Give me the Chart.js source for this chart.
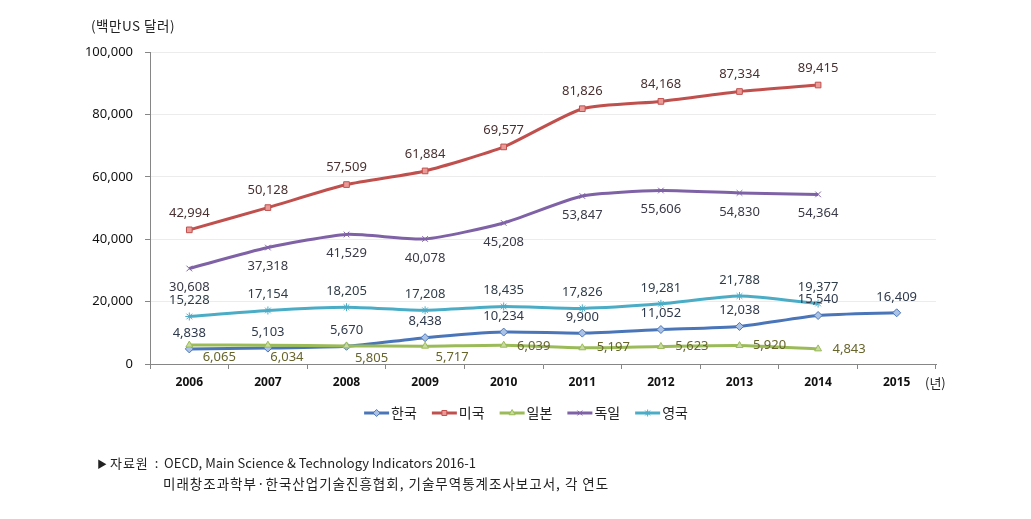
<!DOCTYPE html>
<html>
<head>
<meta charset="utf-8">
<script src="https://cdn.jsdelivr.net/npm/chart.js@4.4.0/dist/chart.umd.min.js"></script>
<style>
  body { margin: 0; background: #fff; }
  #wrap { position: relative; width: 1031px; height: 519px; }
  .txt { position: absolute; font-family: "Noto Sans CJK KR", sans-serif; color: #222; white-space: nowrap; line-height: 1; }
</style>
</head>
<body>
<div id="wrap">
  <canvas id="lineChart" width="1031" height="519"></canvas>
  <div class="txt" style="left:91px; top:19px; font-size:13.5px; letter-spacing:0.5px;">(백만US 달러)</div>
  <div class="txt" style="left:925px; top:376px; font-size:13px;">(년)</div>
  <div class="txt" style="left:97px; top:456px; font-size:13px;"><span style="font-size:10px;">▶</span> <span style="letter-spacing:1px;">자료원</span>&nbsp; :&nbsp; OECD, Main Science &amp; Technology Indicators 2016-1</div>
  <div class="txt" style="left:163px; top:477px; font-size:13.5px; letter-spacing:1px;">미래창조과학부·한국산업기술진흥협회, 기술무역통계조사보고서, 각 연도</div>
</div>
<script>
// 기술무역 수출액 (백만 US 달러)
const years = ['2006', '2007', '2008', '2009', '2010', '2011', '2012', '2013', '2014', '2015']
const korea = [4838, 5103, 5670, 8438, 10234, 9900, 11052, 12038, 15540, 16409]
const usa = [42994, 50128, 57509, 61884, 69577, 81826, 84168, 87334, 89415, null]
const japan = [6065, 6034, 5805, 5717, 6039, 5197, 5623, 5920, 4843, null]
const germany = [30608, 37318, 41529, 40078, 45208, 53847, 55606, 54830, 54364, null]
const uk = [15228, 17154, 18205, 17208, 18435, 17826, 19281, 21788, 19377, null]
const seriesNames = ['한국', '미국', '일본', '독일', '영국']
const yTicks = [0, 20000, 40000, 60000, 80000, 100000]

// label nudges (px) for the japan series, other series use one offset
const japanLabelShift = [[30, 12], [19, 12], [25, 12], [27, 11], [30, 1], [31, 0], [31, 0], [30, 0], [31, 0]]

const fmt = v => v.toLocaleString('en-US')

const makeSet = (name, values, color, fill, style, order, labelColor, dy) => ({
  label: name,
  data: values,
  borderColor: color,
  backgroundColor: fill,
  pointBackgroundColor: fill,
  pointBorderColor: color,
  pointStyle: style,
  pointRadius: 4,
  pointBorderWidth: 1,
  borderWidth: 3,
  tension: 0.2,
  order: order,
  labelColor: labelColor,
  labelDy: dy
})

const datasets = [
  makeSet(seriesNames[0], korea, '#4a76b9', '#a9c2e6', 'rectRot', 5, '#2f3a4c', -16),
  makeSet(seriesNames[1], usa, '#c0504d', '#ea9a97', 'rect', 4, '#4a3030', -17),
  makeSet(seriesNames[2], japan, '#9bbb59', '#c8dba0', 'triangle', 3, '#66652c', 0),
  makeSet(seriesNames[3], germany, '#7f62a6', '#7f62a6', 'crossRot', 2, '#3a3a48', 19),
  makeSet(seriesNames[4], uk, '#4bacc6', '#4bacc6', 'star', 1, '#2f3d48', -16)
]

const valueLabels = {
  id: 'valueLabels',
  afterDatasetsDraw(chart) {
    const ctx = chart.ctx
    ctx.save()
    ctx.font = '13px "Noto Sans"'
    ctx.textAlign = 'center'
    ctx.textBaseline = 'middle'
    chart.data.datasets.forEach((ds, i) => {
      const meta = chart.getDatasetMeta(i)
      ctx.fillStyle = ds.labelColor
      meta.data.forEach((pt, j) => {
        const v = ds.data[j]
        if (v == null) return
        let dx = 0, dy = ds.labelDy
        if (ds.data === japan) { dx = japanLabelShift[j][0]; dy = japanLabelShift[j][1] }
        ctx.fillText(fmt(v), pt.x + dx, pt.y + dy)
      })
    })
    ctx.restore()
  }
}

const bottomLegend = {
  id: 'bottomLegend',
  afterDraw(chart) {
    const ctx = chart.ctx
    ctx.save()
    ctx.font = '14px "Noto Sans CJK KR"'
    ctx.textBaseline = 'middle'
    const items = chart.data.datasets.map(ds => ({ ds: ds, w: 27 + ctx.measureText(ds.label).width }))
    const total = items.reduce((acc, it) => acc + it.w, 0) + 15 * (items.length - 1)
    let x = 526 - total / 2
    const y = 413
    items.forEach(it => {
      const ds = it.ds
      ctx.strokeStyle = ds.borderColor
      ctx.lineWidth = 3
      ctx.beginPath()
      ctx.moveTo(x, y)
      ctx.lineTo(x + 25, y)
      ctx.stroke()
      ctx.fillStyle = ds.pointBackgroundColor
      ctx.strokeStyle = ds.pointBorderColor
      ctx.lineWidth = 1
      Chart.helpers.drawPoint(ctx, { pointStyle: ds.pointStyle, radius: 3.5, borderWidth: 1, rotation: 0 }, x + 12.5, y)
      ctx.fillStyle = '#222'
      ctx.fillText(ds.label, x + 27, y)
      x += it.w + 15
    })
    ctx.restore()
  }
}

const ctxL = document.getElementById('lineChart').getContext('2d')
const myLineChart = new Chart(ctxL, {
  type: 'line',
  data: { labels: years, datasets: datasets },
  plugins: [valueLabels, bottomLegend],
  options: {
    responsive: false,
    animation: false,
    layout: { padding: { left: 0, top: 52, right: 95, bottom: 125 } },
    plugins: { legend: { display: false }, tooltip: { enabled: false } },
    scales: {
      x: {
        offset: true,
        afterFit: axis => { axis.height = 30 },
        grid: { offset: true, drawOnChartArea: false, tickLength: 5, tickColor: '#868686' },
        border: { color: '#868686' },
        ticks: { color: '#111', padding: 6, font: { family: '"Noto Sans"', size: 12, weight: 'bold' } }
      },
      y: {
        min: 0,
        max: 100000,
        afterFit: axis => { axis.width = 150 },
        afterBuildTicks: axis => { axis.ticks = yTicks.map(v => ({ value: v })) },
        grid: { color: '#ececec', tickLength: 5, tickColor: '#868686' },
        border: { color: '#868686' },
        ticks: { color: '#111', padding: 12, font: { family: '"Noto Sans"', size: 13 }, callback: v => fmt(v) }
      }
    }
  }
})
</script>
</body>
</html>
